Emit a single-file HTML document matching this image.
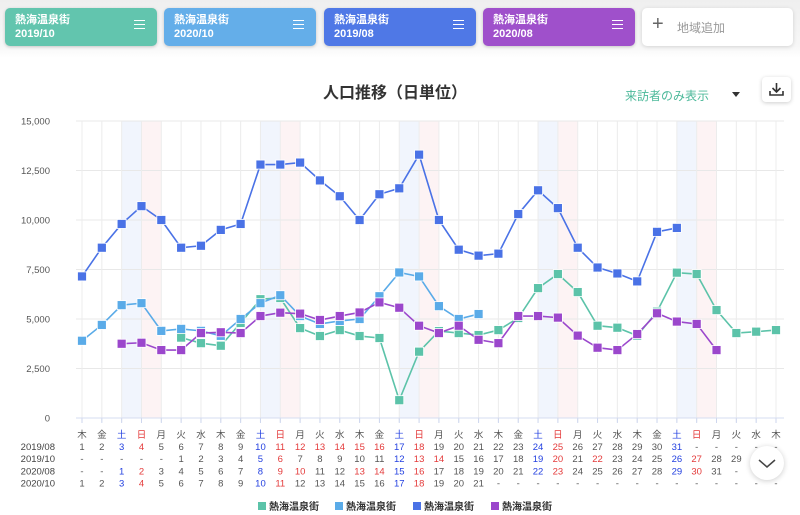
<!DOCTYPE html>
<html><head><meta charset="utf-8">
<style>
*{box-sizing:border-box;margin:0;padding:0}
body{width:800px;height:515px;overflow:hidden;background:#fff;font-family:"Liberation Sans","Noto Sans CJK JP",sans-serif;position:relative}
.top{position:absolute;left:0;top:0;width:800px;height:58px;background:linear-gradient(#efefef,#f7f7f7 80%,#fff)}
.card{position:absolute;top:8px;height:38px;width:152px;border-radius:5px;color:#fff;font-size:11px;font-weight:bold;padding:5px 10px;line-height:14px;box-shadow:0 1px 3px rgba(0,0,0,.2)}
.card .m{position:absolute;right:12px;top:12px;width:11px;height:9px;border-top:1.5px solid #fff;border-bottom:1.5px solid #fff}
.card .m:after{content:"";position:absolute;left:0;right:0;top:2.5px;border-top:1.5px solid #fff}
.add{position:absolute;left:642px;top:8px;width:151px;height:38px;background:#fff;border-radius:5px;box-shadow:0 1px 4px rgba(0,0,0,.15);color:#999;font-size:12px;padding:11px 0 0 35px}
.add span{position:absolute;left:10px;top:5px;font-size:20px;color:#666;font-weight:300}
.title{position:absolute;left:0;width:790px;top:79px;text-align:center;font-size:16px;font-weight:bold;color:#333}
.vis{position:absolute;left:625px;top:87px;font-size:12px;color:#4cb99a}
.dd{position:absolute;left:732px;top:92px;border-left:4px solid transparent;border-right:4px solid transparent;border-top:5px solid #333}
.dl{position:absolute;left:762px;top:77px;width:29px;height:25px;background:#fff;border-radius:4px;box-shadow:0 1px 4px rgba(0,0,0,.2)}
.sb{position:absolute;left:750px;top:446px;width:34px;height:34px;border-radius:50%;background:#fff;box-shadow:0 1px 6px rgba(0,0,0,.2)}
</style></head><body>
<div class="top"></div>
<div class="card" style="left:5px;background:#62c5ae">熱海温泉街<br>2019/10<div class="m"></div></div>
<div class="card" style="left:164px;background:#64aee9">熱海温泉街<br>2020/10<div class="m"></div></div>
<div class="card" style="left:324px;background:#4f78e6">熱海温泉街<br>2019/08<div class="m"></div></div>
<div class="card" style="left:483px;background:#9f50cb">熱海温泉街<br>2020/08<div class="m"></div></div>
<div class="add"><span>+</span>地域追加</div>
<div class="title">人口推移（日単位）</div>
<div class="vis">来訪者のみ表示</div>
<div class="dd"></div>
<div class="dl"><svg width="29" height="25"><path d="M14.5 6v9M10.5 11l4 4 4-4M8 14v4h13v-4" fill="none" stroke="#333" stroke-width="1.6"/></svg></div>
<svg id="chart" width="800" height="515" style="position:absolute;left:0;top:0"></svg>
<div class="sb"><svg width="34" height="34"><path d="M9 14l8 7 8-7" fill="none" stroke="#444" stroke-width="1.5"/></svg></div>
<script>
const weekdays=["木","金","土","日","月","火","水","木","金","土","日","月","火","水","木","金","土","日","月","火","水","木","金","土","日","月","火","水","木","金","土","日","月","火","水","木"];
const yTicks=[0,2500,5000,7500,10000,12500,15000];
const seriesNames=["熱海温泉街","熱海温泉街","熱海温泉街","熱海温泉街"];
const seriesColors=["#5cc3a9","#5aabe8","#4a72e6","#9b47cc"];
const seriesStart=[5,0,0,2];
const s2019_10=[4060,3780,3650,4800,6000,6060,4540,4140,4440,4140,4040,900,3350,4390,4290,4190,4440,5050,6560,7270,6360,4660,4560,4160,5370,7340,7270,5450,4290,4360,4440];
const s2020_10=[3900,4700,5700,5800,4400,4500,4400,4150,5000,5800,6200,5150,4750,4900,5000,6150,7350,7150,5650,5000,5250];
const s2019_08=[7150,8600,9800,10700,10000,8600,8700,9500,9800,12800,12800,12900,12000,11200,10000,11300,11600,13300,10000,8500,8200,8300,10300,11500,10600,8600,7600,7300,6900,9400,9600];
const s2020_08=[3750,3800,3430,3430,4290,4330,4290,5150,5320,5270,4950,5150,5330,5840,5570,4660,4290,4660,3950,3780,5150,5150,5070,4160,3550,3430,4240,5290,4870,4750,3430];
const seriesData=[s2019_10,s2020_10,s2019_08,s2020_08];
const rowLabels=["2019/08","2019/10","2020/08","2020/10"];
const rowStart=[0,5,2,0];
const rowLen=[31,31,31,21];
const rowBlue=[[3,10,17,24,31],[5,12,19,26],[1,8,15,22,29],[3,10,17]];
const rowRed=[[4,11,12,13,14,15,16,18,25],[6,13,14,20,22,27],[2,9,10,13,14,16,23,30],[4,11,18]];

const NS="http://www.w3.org/2000/svg",svg=document.getElementById('chart');
const X0=82,X1=776,Y0=418,Y1=121,YMAX=15000;
const xs=i=>X0+i*(X1-X0)/(weekdays.length-1);
const ys=v=>Y0-v/YMAX*(Y0-Y1);
function mk(t,a,p){const e=document.createElementNS(NS,t);for(const k in a)e.setAttribute(k,a[k]);(p||svg).appendChild(e);return e;}
const dx=xs(1)-xs(0);
// bands
weekdays.forEach((w,i)=>{if(w==="土"||w==="日"){const r=mk('rect',{x:xs(i),y:Y1,width:dx,height:Y0-Y1,fill:w==="土"?"#f1f5fd":"#fdf3f4"});

}});
// grid
yTicks.forEach(t=>{const l=mk('line',{x1:76,x2:784,y1:ys(t),y2:ys(t),stroke:"#e8e8e8","stroke-width":1});


const tx=mk('text',{x:50,y:ys(t)+3.5,"text-anchor":"end","font-size":"9.5",fill:"#555"});tx.textContent=t.toLocaleString('en-US');

});
weekdays.forEach((w,i)=>{const l=mk('line',{x1:xs(i),x2:xs(i),y1:Y1,y2:Y0+4,stroke:"#ececec","stroke-width":1});


const tk=mk('line',{x1:xs(i),x2:xs(i),y1:Y0,y2:Y0+5,stroke:"#cdd6ee"});


const tx=mk('text',{x:xs(i),y:438,"text-anchor":"middle","font-size":"9.5",fill:w==="土"?"#2340e0":w==="日"?"#e43b3b":"#555"});tx.textContent=w;

});
mk('line',{x1:76,x2:784,y1:Y0,y2:Y0,stroke:"#d5dcf0"});
// rows
rowLabels.forEach((r,k)=>{const y=450+k*12.2;
const lb=mk('text',{x:55,y:y,"text-anchor":"end","font-size":"9.5",fill:"#444"});lb.textContent=r;


weekdays.forEach((w,i)=>{const d=i-rowStart[k]+1;const ok=d>=1&&d<=rowLen[k];
let c="#555";if(ok&&rowBlue[k].includes(d))c="#2340e0";if(ok&&rowRed[k].includes(d))c="#e43b3b";
const t=mk('text',{x:xs(i),y:y,"text-anchor":"middle","font-size":"9.5",fill:c});t.textContent=ok?d:"-";

});});
// series
seriesData.forEach((arr,s)=>{const g=mk('g',{});


const pts=arr.map((v,j)=>[xs(seriesStart[s]+j),ys(v)]);
const pl=mk('polyline',{points:pts.map(p=>p.join(',')).join(' '),fill:"none",stroke:seriesColors[s],"stroke-width":1.6},g);


pts.forEach(p=>{const r=mk('rect',{x:p[0]-4.5,y:p[1]-4.5,width:9,height:9,fill:seriesColors[s],stroke:"#fff","stroke-width":0.8},g);

});});
// legend
const lx=[258,335,413,491];
seriesNames.forEach((n,s)=>{const r=mk('rect',{x:lx[s],y:502,width:8,height:8,fill:seriesColors[s]});


const t=mk('text',{x:lx[s]+11,y:510,"font-size":"10",fill:"#333","font-weight":"bold"});t.textContent=n;

});
</script>
</body></html>
